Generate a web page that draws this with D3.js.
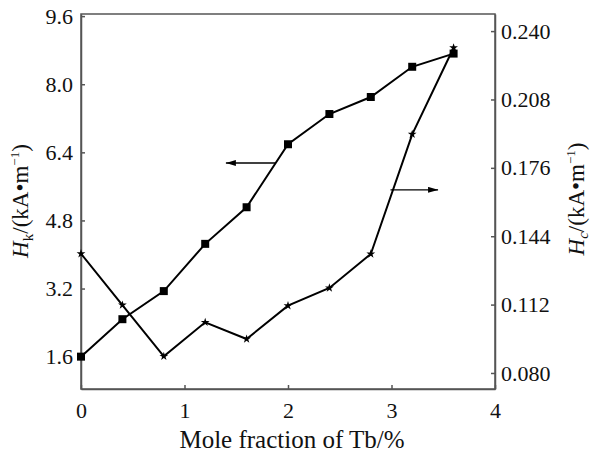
<!DOCTYPE html>
<meta charset="utf-8">
<head>
<style>
  body { margin: 0; background: #fff; }
  text { font-family: "Liberation Serif", "Times New Roman", serif; fill: #111; }
  .tick text { font-size: 22px; }
</style>
</head>
<body>
<div id="my_dataviz"></div>
<script src="https://d3js.org/d3.v7.min.js"></script>
<script>

  // data
  var tb = [0, 0.4, 0.8, 1.2, 1.6, 2.0, 2.4, 2.8, 3.2, 3.6];
  var hk = [1.6, 2.48, 3.14, 4.25, 5.11, 6.59, 7.30, 7.70, 8.41, 8.72];
  var hc = [0.1358, 0.1118, 0.0878, 0.1037, 0.0959, 0.1115, 0.1198, 0.1357, 0.1917, 0.2322];

  var xTicks = [0, 1, 2, 3, 4];
  var hkTicks = [1.6, 3.2, 4.8, 6.4, 8.0, 9.6];
  var hcTicks = [0.080, 0.112, 0.144, 0.176, 0.208, 0.240];

  var margin = {top: 14, right: 99, bottom: 64, left: 81},
      width = 594 - margin.left - margin.right,
      height = 453 - margin.top - margin.bottom;

  var svg = d3.select("#my_dataviz")
    .append("svg")
      .attr("width", 594)
      .attr("height", 453)
    .append("g")
      .attr("transform", "translate(" + margin.left + "," + margin.top + ")");

  var x = d3.scaleLinear().domain([0, 4]).range([0, width]);
  var yL = d3.scaleLinear().domain([0.84, 9.65]).range([height, 0]);
  var yR = d3.scaleLinear().domain([0.0725, 0.248]).range([height, 0]);

  // frame
  svg.append("rect")
    .attr("width", width).attr("height", height)
    .attr("fill", "none").attr("stroke", "#555").attr("stroke-width", 1.5);

  var xAxis = svg.append("g")
    .attr("transform", "translate(0," + height + ")")
    .call(d3.axisBottom(x).tickValues(xTicks).tickFormat(d3.format("d"))
      .tickSizeInner(-4).tickSizeOuter(0).tickPadding(13));

  var lAxis = svg.append("g")
    .call(d3.axisLeft(yL).tickValues(hkTicks).tickFormat(d3.format(".1f"))
      .tickSizeInner(-4).tickSizeOuter(0).tickPadding(8));

  var rAxis = svg.append("g")
    .attr("transform", "translate(" + width + ",0)")
    .call(d3.axisRight(yR).tickValues(hcTicks).tickFormat(d3.format(".3f"))
      .tickSizeInner(-4).tickSizeOuter(0).tickPadding(6));

  [xAxis, lAxis, rAxis].forEach(function(a) {
    a.select(".domain").attr("stroke", "#555").attr("stroke-width", 1.5);
    a.selectAll(".tick line").attr("stroke", "#555").attr("stroke-width", 1.5);
    a.selectAll(".tick text").attr("fill", "#111");
  });

  // lines
  var pts = tb.map(function(d, i) { return {x: d, hk: hk[i], hc: hc[i]}; });

  svg.append("path")
    .datum(pts)
    .attr("fill", "none").attr("stroke", "#000").attr("stroke-width", 2)
    .attr("d", d3.line().x(function(d) { return x(d.x); }).y(function(d) { return yL(d.hk); }));

  svg.append("path")
    .datum(pts)
    .attr("fill", "none").attr("stroke", "#000").attr("stroke-width", 2)
    .attr("d", d3.line().x(function(d) { return x(d.x); }).y(function(d) { return yR(d.hc); }));

  svg.selectAll(".sq")
    .data(pts).enter().append("path")
      .attr("class", "sq")
      .attr("transform", function(d) { return "translate(" + x(d.x) + "," + yL(d.hk) + ")"; })
      .attr("d", d3.symbol().type(d3.symbolSquare).size(64))
      .attr("fill", "#000");

  svg.selectAll(".st")
    .data(pts).enter().append("path")
      .attr("class", "st")
      .attr("transform", function(d) { return "translate(" + x(d.x) + "," + yR(d.hc) + ")"; })
      .attr("d", d3.symbol().type(d3.symbolStar).size(24))
      .attr("fill", "#000");

  // arrows pointing to the axis each curve belongs to
  var defs = svg.append("defs");
  defs.append("marker")
    .attr("id", "head").attr("viewBox", "0 0 10 6")
    .attr("refX", 10).attr("refY", 3)
    .attr("markerWidth", 10).attr("markerHeight", 6)
    .attr("markerUnits", "userSpaceOnUse").attr("orient", "auto")
    .append("path").attr("d", "M0,0L10,3L0,6Z").attr("fill", "#000");

  svg.append("line")
    .attr("x1", x(1.88)).attr("x2", x(1.4))
    .attr("y1", yL(6.15)).attr("y2", yL(6.15))
    .attr("stroke", "#000").attr("stroke-width", 1.3).attr("marker-end", "url(#head)");

  svg.append("line")
    .attr("x1", x(2.99)).attr("x2", x(3.45))
    .attr("y1", yR(0.1657)).attr("y2", yR(0.1657))
    .attr("stroke", "#000").attr("stroke-width", 1.3).attr("marker-end", "url(#head)");

  // axis titles
  svg.append("text")
    .attr("text-anchor", "middle")
    .attr("x", width / 2 + 4).attr("y", height + 59)
    .style("font-size", "25px")
    .text("Mole fraction of Tb/%");

  var lt = svg.append("text")
    .attr("text-anchor", "middle")
    .attr("transform", "translate(" + (-53) + "," + (201 - margin.top) + ") rotate(-90)")
    .style("font-size", "23px");
  lt.append("tspan").style("font-style", "italic").text("H");
  lt.append("tspan").attr("dy", 5).style("font-size", "15px").text("k");
  lt.append("tspan").attr("dy", -5).text("/(kA\u2022m");
  lt.append("tspan").attr("dy", -9).style("font-size", "13px").text("\u22121");
  lt.append("tspan").attr("dy", 9).text(")");

  var rt = svg.append("text")
    .attr("text-anchor", "middle")
    .attr("transform", "translate(" + (width + 89) + "," + (199 - margin.top) + ") rotate(-90)")
    .style("font-size", "23px");
  rt.append("tspan").style("font-style", "italic").text("H");
  rt.append("tspan").attr("dy", 4).style("font-size", "15px").style("font-style", "italic").text("c");
  rt.append("tspan").attr("dy", -4).text("/(kA\u2022m");
  rt.append("tspan").attr("dy", -9).style("font-size", "13px").text("\u22121");
  rt.append("tspan").attr("dy", 9).text(")");

</script>
</body>
